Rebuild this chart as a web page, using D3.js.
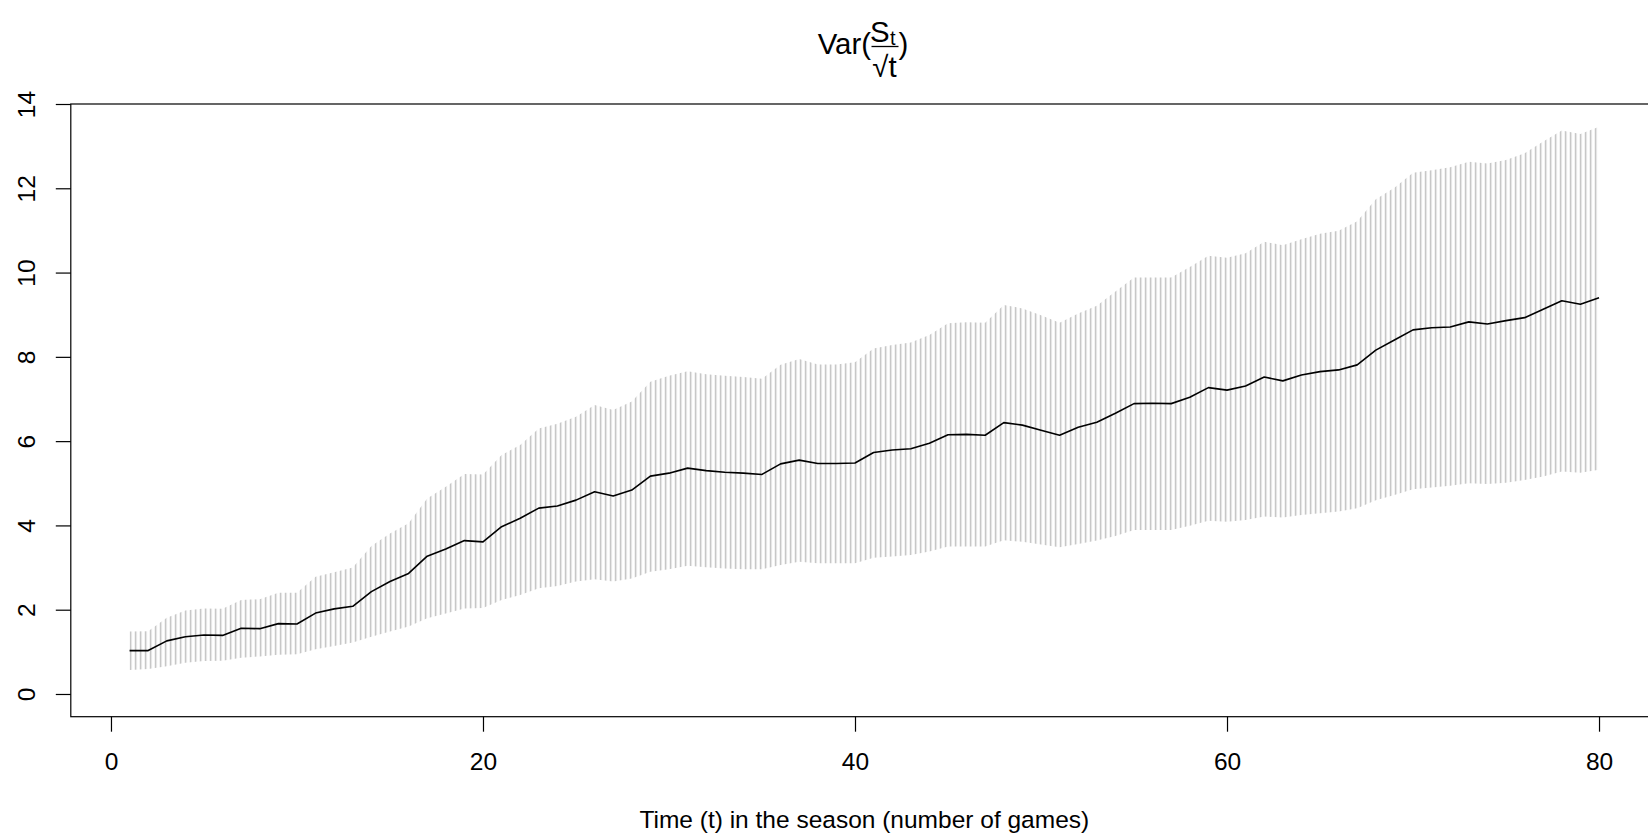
<!DOCTYPE html>
<html>
<head>
<meta charset="utf-8">
<script src="https://cdn.jsdelivr.net/npm/d3@7"></script>
<style>
  html, body { margin: 0; padding: 0; background: #fff; }
  svg { display: block; }
  text { font-family: "Liberation Sans", Arial, Helvetica, sans-serif; fill: #000; }
</style>
</head>
<body>
<svg id="chart" width="1648" height="837"></svg>
<script>
// ---- data ----
const games = [1,2,3,4,5,6,7,8,9,10,11,12,13,14,15,16,17,18,19,20,
  21,22,23,24,25,26,27,28,29,30,31,32,33,34,35,36,37,38,39,40,
  41,42,43,44,45,46,47,48,49,50,51,52,53,54,55,56,57,58,59,60,
  61,62,63,64,65,66,67,68,69,70,71,72,73,74,75,76,77,78,79,80];

const meanVar = [1.03,1.03,1.26,1.36,1.40,1.39,1.56,1.55,1.67,1.66,
  1.92,2.02,2.08,2.43,2.67,2.86,3.27,3.44,3.64,3.61,
  3.97,4.17,4.41,4.46,4.60,4.80,4.70,4.84,5.17,5.24,
  5.36,5.30,5.26,5.24,5.21,5.46,5.55,5.47,5.47,5.48,
  5.73,5.79,5.82,5.95,6.15,6.16,6.14,6.44,6.38,6.26,
  6.14,6.33,6.45,6.66,6.89,6.90,6.89,7.04,7.27,7.21,
  7.31,7.52,7.43,7.57,7.65,7.69,7.81,8.16,8.40,8.64,
  8.69,8.71,8.83,8.78,8.86,8.93,9.13,9.33,9.25,9.40];

const upperVar = [1.48,1.49,1.81,1.98,2.03,2.02,2.23,2.25,2.40,2.40,
  2.78,2.89,3.00,3.51,3.81,4.05,4.64,4.92,5.22,5.21,
  5.67,5.91,6.30,6.41,6.58,6.86,6.74,6.94,7.41,7.55,
  7.66,7.59,7.55,7.52,7.48,7.81,7.95,7.82,7.82,7.87,
  8.20,8.28,8.34,8.52,8.80,8.82,8.81,9.23,9.15,8.99,
  8.81,9.03,9.21,9.55,9.88,9.88,9.88,10.13,10.40,10.35,
  10.46,10.73,10.65,10.79,10.92,10.99,11.22,11.74,12.01,12.37,
  12.43,12.50,12.63,12.59,12.67,12.83,13.11,13.37,13.29,13.46];

const lowerVar = [0.57,0.59,0.66,0.74,0.78,0.79,0.86,0.89,0.93,0.94,
  1.06,1.14,1.22,1.36,1.48,1.60,1.80,1.91,2.03,2.04,
  2.23,2.35,2.51,2.56,2.67,2.72,2.67,2.74,2.90,2.96,
  3.04,3.01,2.98,2.96,2.96,3.06,3.14,3.10,3.10,3.10,
  3.23,3.26,3.30,3.38,3.50,3.50,3.50,3.65,3.61,3.55,
  3.48,3.56,3.64,3.75,3.89,3.89,3.89,3.99,4.11,4.09,
  4.13,4.21,4.19,4.25,4.29,4.33,4.41,4.60,4.72,4.86,
  4.90,4.94,5.00,4.98,5.01,5.08,5.16,5.28,5.25,5.32];

const xTicks = [0, 20, 40, 60, 80];
const yTicks = [0, 2, 4, 6, 8, 10, 12, 14];
const xLabel = "Time (t) in the season (number of games)";

// ---- layout ----
const svg = d3.select("#chart");
const plotL = 70.8, plotR = 1657.8, plotT = 104, plotB = 716.7;
const x = d3.scaleLinear().domain([-2.16, 83.16]).range([plotL, plotR]);
const y = d3.scaleLinear().domain([-0.539, 14.0]).range([plotB, plotT]);
const fs = 24.5;

const rows = games.map((g, i) => ({ t: g, m: meanVar[i], lo: lowerVar[i], hi: upperVar[i] }));

// hatch pattern (vertical shading lines, like R polygon density)
const defs = svg.append("defs");
const hatchStep = 5;
const pat = defs.append("pattern")
  .attr("id", "hatch")
  .attr("patternUnits", "userSpaceOnUse")
  .attr("width", hatchStep).attr("height", 20)
  .attr("x", x(1) + 1.1 - hatchStep / 2).attr("y", 0);
pat.append("line")
  .attr("x1", hatchStep / 2).attr("x2", hatchStep / 2)
  .attr("y1", -1).attr("y2", 21)
  .attr("stroke", "#bebebe").attr("stroke-width", 1.5);

// band
const area = d3.area()
  .x(d => x(d.t))
  .y0(d => y(d.lo))
  .y1(d => y(d.hi));
svg.append("path").datum(rows)
  .attr("d", area)
  .attr("fill", "url(#hatch)")
  .attr("stroke", "none");

// mean line
const line = d3.line().x(d => x(d.t)).y(d => y(d.m));
svg.append("path").datum(rows)
  .attr("d", line)
  .attr("fill", "none")
  .attr("stroke", "#000")
  .attr("stroke-width", 1.6)
  .attr("stroke-linejoin", "round");

// box
svg.append("rect")
  .attr("x", plotL).attr("y", plotT)
  .attr("width", plotR - plotL).attr("height", plotB - plotT)
  .attr("fill", "none").attr("stroke", "#000").attr("stroke-width", 1.2);

// x axis
const xAxis = svg.append("g")
  .attr("transform", `translate(0,${plotB})`)
  .call(d3.axisBottom(x).tickValues(xTicks).tickSize(15).tickFormat(d3.format("d")));
xAxis.select(".domain").remove();
xAxis.selectAll(".tick line").attr("stroke", "#000").attr("stroke-width", 1.2);
xAxis.selectAll(".tick text")
  .attr("y", 53.3).attr("dy", null)
  .attr("font-size", fs).attr("font-family", null).attr("fill", "#000");

// y axis
const yAxis = svg.append("g")
  .attr("transform", `translate(${plotL},0)`)
  .call(d3.axisLeft(y).tickValues(yTicks).tickSize(15).tickFormat(d3.format("d")));
yAxis.select(".domain").remove();
yAxis.selectAll(".tick line").attr("stroke", "#000").attr("stroke-width", 1.2);
yAxis.selectAll(".tick text")
  .attr("transform", "rotate(-90)")
  .attr("x", 0).attr("y", -35.5).attr("dy", null)
  .attr("text-anchor", "middle")
  .attr("font-size", fs).attr("font-family", null).attr("fill", "#000");

// x label
svg.append("text")
  .attr("x", (plotL + plotR) / 2).attr("y", 828)
  .attr("text-anchor", "middle")
  .attr("font-size", fs)
  .text(xLabel);

// title: Var( S_t / sqrt(t) )
const tf = 29.4;
const fracCx = 884.5;
const title = svg.append("g");
title.append("text")
  .attr("x", 871).attr("y", 53.5)
  .attr("text-anchor", "end").attr("font-size", tf)
  .text("Var(");
const num = title.append("text")
  .attr("x", 870).attr("y", 41.5)
  .attr("font-size", tf);
num.append("tspan").text("S");
num.append("tspan").attr("font-size", 20).attr("dy", 3).attr("dx", 0.5).text("t");
title.append("line")
  .attr("x1", 871.5).attr("x2", 898.5)
  .attr("y1", 46.5).attr("y2", 46.5)
  .attr("stroke", "#000").attr("stroke-width", 1.3);
title.append("text")
  .attr("x", fracCx).attr("y", 76.5)
  .attr("text-anchor", "middle").attr("font-size", tf)
  .text("\u221At");
title.append("text")
  .attr("x", 898.5).attr("y", 53.5)
  .attr("font-size", tf)
  .text(")");
</script>
</body>
</html>
